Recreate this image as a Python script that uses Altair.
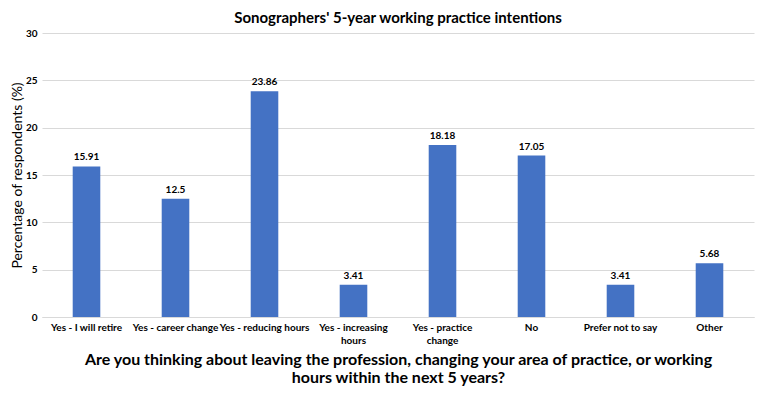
import altair as alt
import pandas as pd

categories = [
    "Yes - I will retire",
    "Yes - career change",
    "Yes - reducing hours",
    "Yes - increasing hours",
    "Yes - practice change",
    "No",
    "Prefer not to say",
    "Other",
]
values = [15.91, 12.5, 23.86, 3.41, 18.18, 17.05, 3.41, 5.68]

df = pd.DataFrame({"category": categories, "value": values})

FONT = "Lato"

label_expr = (
    "datum.label == 'Yes - increasing hours' ? ['Yes - increasing', 'hours'] : "
    "datum.label == 'Yes - practice change' ? ['Yes - practice', 'change'] : datum.label"
)

x = alt.X(
    "category:N",
    sort=categories,
    scale=alt.Scale(paddingInner=0.69, paddingOuter=0.345),
    axis=alt.Axis(
        title=[
            "Are you thinking about leaving the profession, changing your area of practice, or working",
            "hours within the next 5 years?",
        ],
        titleFont=FONT,
        titleFontSize=16,
        titleFontWeight="bold",
        titleColor="#000000",
        titleLineHeight=18,
        titlePadding=6,
        labelExpr=label_expr,
        labelAngle=0,
        labelFont=FONT,
        labelFontSize=10,
        labelFontWeight="bold",
        labelColor="#000000",
        labelLineHeight=13,
        labelPadding=5,
        labelLimit=200,
        ticks=False,
        domainColor="#d9d9d9",
    ),
)

y = alt.Y(
    "value:Q",
    scale=alt.Scale(domain=[0, 30]),
    axis=alt.Axis(
        title="Percentage of respondents (%)",
        titleFont=FONT,
        titleFontSize=14,
        titleFontWeight="normal",
        titleColor="#000000",
        titleX=-18,
        values=[0, 5, 10, 15, 20, 25, 30],
        labelFont=FONT,
        labelFontSize=10,
        labelFontWeight="bold",
        labelColor="#000000",
        labelPadding=5,
        ticks=False,
        domain=False,
        gridColor="#d9d9d9",
    ),
)

base = alt.Chart(df)

bars = base.mark_bar(color="#4472C4").encode(x=x, y=y)

text = base.mark_text(
    dy=-9, font=FONT, fontSize=10, fontWeight="bold", color="#000000"
).encode(x=alt.X("category:N", sort=categories), y="value:Q", text=alt.Text("value:Q"))

chart = (
    alt.layer(bars, text)
    .properties(
        width=712,
        height=284,
        title=alt.TitleParams(
            "Sonographers' 5-year working practice intentions",
            font=FONT,
            fontSize=15,
            fontWeight="bold",
            color="#000000",
            anchor="middle",
            offset=2,
        ),
        autosize=alt.AutoSizeParams(type="none"),
        padding={"left": 34, "top": 25, "right": 1, "bottom": 71},
    )
    .configure(background="white")
    .configure_view(stroke=None, strokeWidth=0)
)

chart.save("out.html", embed_options={"renderer": "svg", "actions": False})
